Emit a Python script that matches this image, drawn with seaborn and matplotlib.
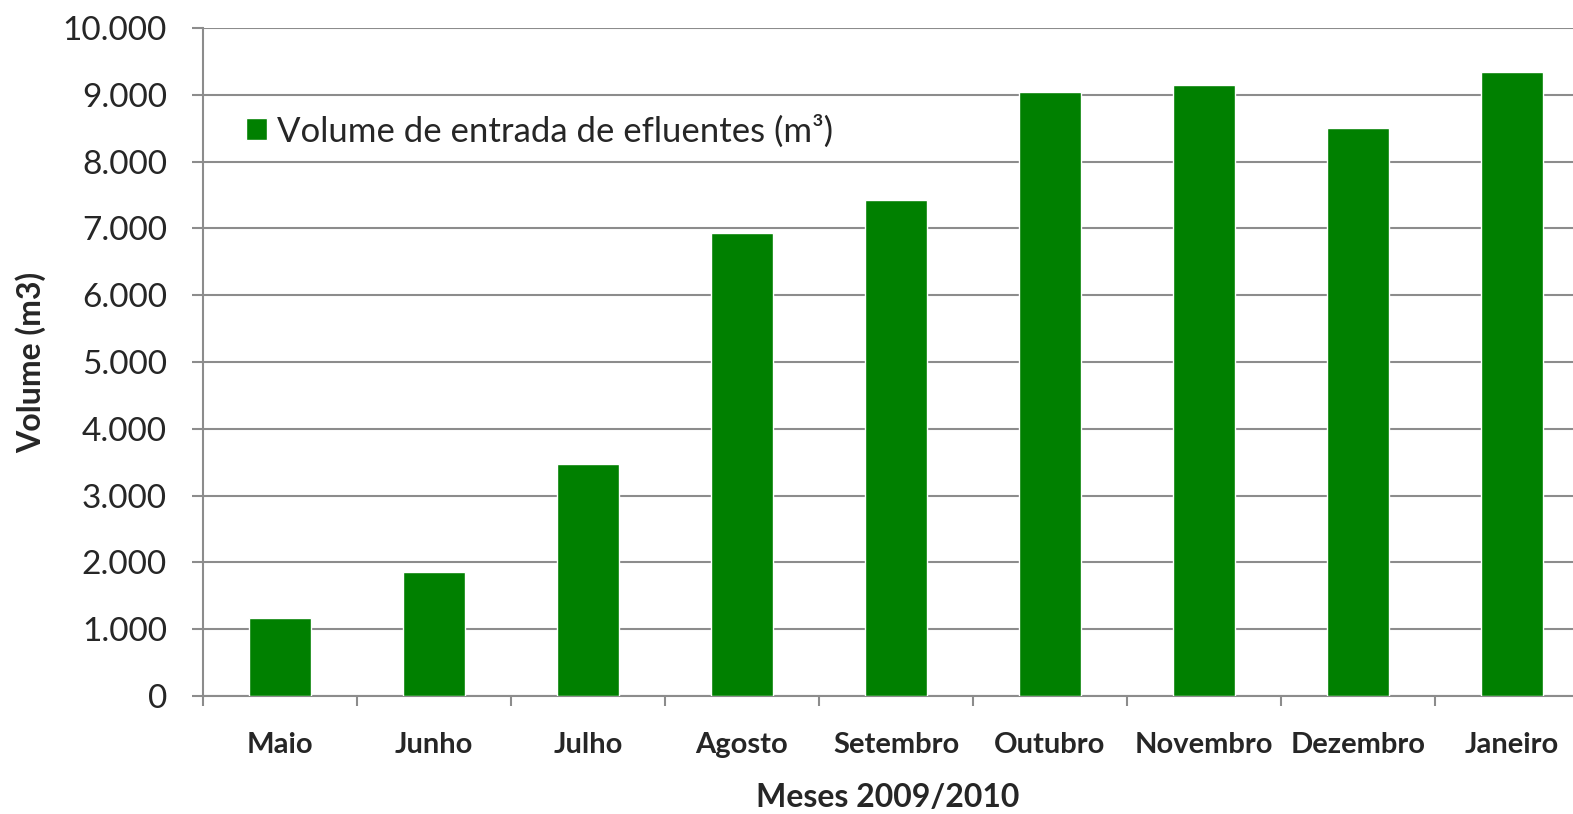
import numpy as np
import pandas as pd
from matplotlib import pyplot as plt
import matplotlib.ticker as ticker
from matplotlib.patches import Patch
import seaborn as sns

# DATA
meses = ['Maio', 'Junho', 'Julho', 'Agosto', 'Setembro', 'Outubro',
         'Novembro', 'Dezembro', 'Janeiro']
volume = [1165, 1850, 3475, 6930, 7430, 9040, 9150, 8500, 9340]
serie = 'Volume de entrada de efluentes (m³)'

df = pd.DataFrame({'mes': meses, 'volume': volume})

sns.set_style('white')
plt.rcParams['font.family'] = ['Lato', 'DejaVu Sans']

verde = '#008000'
cinza = '#8c8c8c'

fig = plt.figure(figsize=(15.73, 8.14), dpi=100)
ax = fig.add_axes([203 / 1573, 1 - 696 / 814, 1 - 203 / 1573, (696 - 28) / 814])

sns.barplot(data=df, x='mes', y='volume', color=verde, width=0.4,
            saturation=1, ax=ax, zorder=3)

ax.set_ylim(0, 10000)
ax.set_xlim(-0.5, -0.5 + (1573 - 203) / 154)
ax.yaxis.set_major_locator(ticker.MultipleLocator(1000))
ax.yaxis.set_major_formatter(ticker.FuncFormatter(
    lambda y, _: '{:,.0f}'.format(y).replace(',', '.')))
ax.grid(axis='y', color=cinza, linewidth=1.5, zorder=0)
ax.grid(axis='x', visible=False)

for s in ['top', 'right']:
    ax.spines[s].set_visible(False)
for s in ['left', 'bottom']:
    ax.spines[s].set_color(cinza)
    ax.spines[s].set_linewidth(1.5)

# ticks
ax.xaxis.set_minor_locator(ticker.FixedLocator(np.arange(-0.5, 9, 1)))
ax.tick_params(axis='x', which='major', length=0, pad=26, labelsize=21)
ax.tick_params(axis='x', which='minor', length=7.5, width=1.5, color=cinza,
               direction='out', bottom=True)
ax.tick_params(axis='y', length=8, width=1.5, color=cinza, direction='out',
               left=True, pad=18, labelsize=24)
for lbl in ax.get_xticklabels():
    lbl.set_fontweight('bold')

ax.set_xlabel('Meses 2009/2010', fontsize=23, fontweight='bold', labelpad=18)
ax.set_ylabel('Volume (m3)', fontsize=23, fontweight='bold', labelpad=12)

ax.legend(handles=[Patch(facecolor=verde, label=serie)], loc='center left',
          bbox_to_anchor=(0.0314, 0.846), frameon=False, fontsize=25,
          handlelength=0.6, handleheight=0.6, handletextpad=0.3,
          borderaxespad=0, borderpad=0)

fig.savefig('out.png', dpi=100)
plt.close()
